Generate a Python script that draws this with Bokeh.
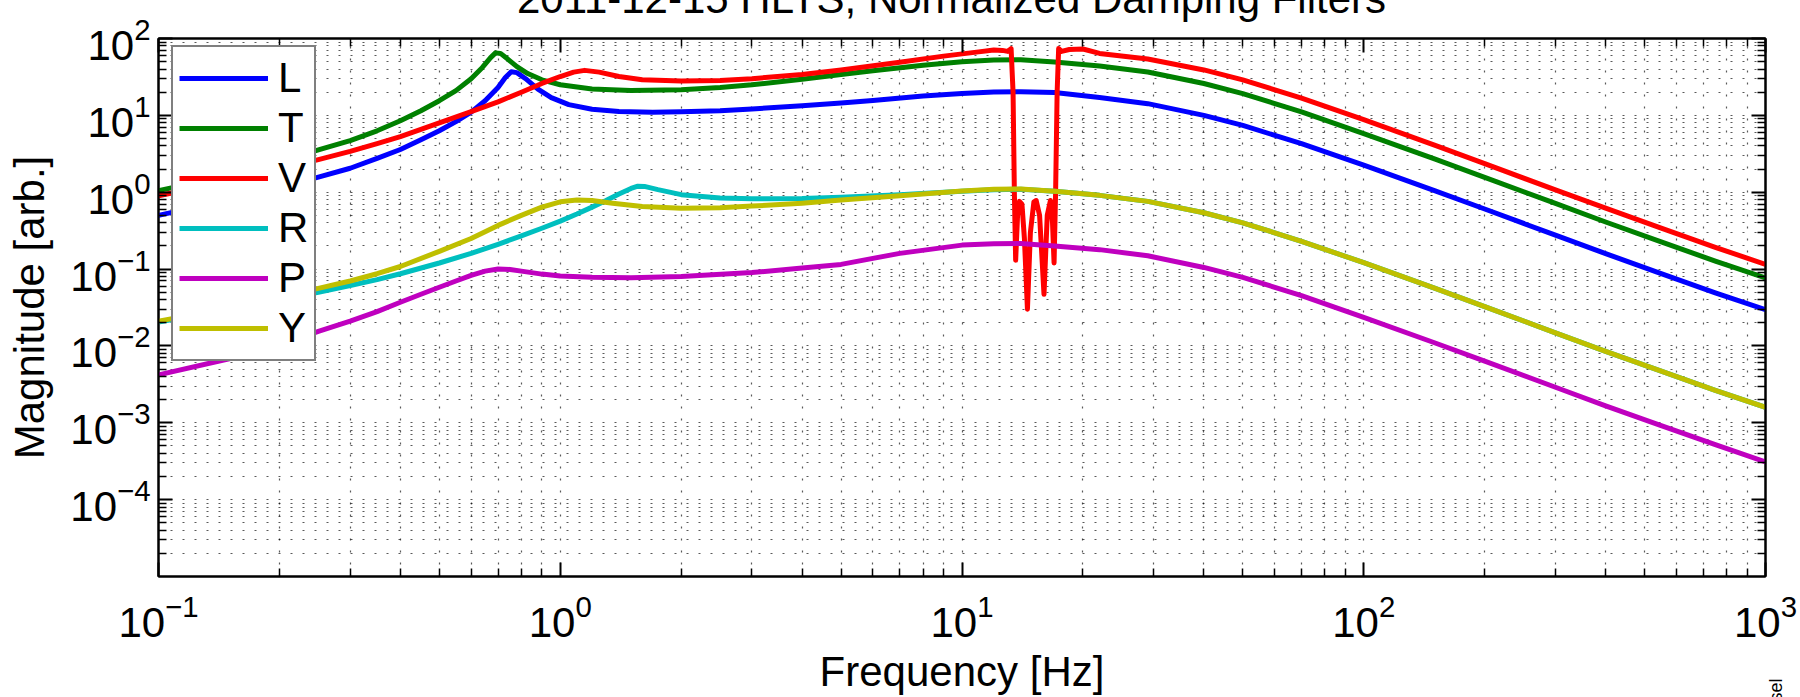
from math import pi
from bokeh.plotting import figure
from bokeh.models import (FixedTicker, LogAxis, Legend, LegendItem, Label,
                          CustomJSTickFormatter, LogTickFormatter)
from bokeh.embed import file_html
from bokeh.resources import INLINE

FONT = "Liberation Sans"

title_text = "2011-12-15 HLTS, Normalized Damping Filters"
x_label = "Frequency [Hz]"
y_label = "Magnitude [arb.]"
stamp_text = "sel"
series_names = ["L", "T", "V", "R", "P", "Y"]
series_colors = ["#0000ff", "#008000", "#ff0000", "#00bfbf", "#bf00bf", "#bfbf00"]

x_major_ticks = [0.1, 1, 10, 100, 1000]
y_major_ticks = [1e-4, 1e-3, 1e-2, 1e-1, 1, 10, 100]

# ---- L (blue)
freq_L = [0.1, 0.15, 0.2, 0.25, 0.3, 0.35, 0.4, 0.45, 0.5, 0.55, 0.6, 0.65, 0.7,
          0.73, 0.755, 0.78, 0.82, 0.88, 0.95, 1.05, 1.2, 1.4, 1.7, 2.0, 2.5, 3,
          4, 5, 6, 8, 10, 12, 14, 17, 22, 29, 40, 50, 70, 100, 150, 200, 300,
          400, 550, 750, 1000]
mag_L = [0.5, 0.8, 1.15, 1.57, 2.05, 2.75, 3.6, 4.8, 6.3, 8.3, 11, 15.5, 23,
         31, 37, 36, 30, 22, 17, 13.8, 12, 11.2, 11, 11.1, 11.5, 12.1,
         13.3, 14.5, 15.6, 17.8, 19.3, 20.2, 20.3, 19.8, 17.1, 14.2, 10.0, 7.4,
         4.28, 2.25, 1.05, 0.605, 0.276, 0.159, 0.0874, 0.049, 0.0296]

# ---- T (green)
freq_T = [0.1, 0.15, 0.2, 0.25, 0.3, 0.35, 0.4, 0.45, 0.5, 0.55, 0.6, 0.64,
          0.67, 0.69, 0.71, 0.74, 0.78, 0.83, 0.9, 1.0, 1.2, 1.5, 2, 2.5, 3, 4,
          5, 6, 8, 10, 12, 14, 17, 22, 29, 40, 50, 70, 100, 150, 200, 300, 400,
          550, 750, 1000]
mag_T = [1.05, 1.65, 2.5, 3.55, 4.7, 6.3, 8.5, 11.5, 15.5, 21, 30, 42,
         56, 65, 64, 54, 43, 35, 29, 25, 22, 21, 21.5, 23, 25, 29.5,
         34, 38, 45, 50, 52.5, 53, 49.5, 44, 36.7, 26, 19.2, 11.1, 5.8, 2.71,
         1.56, 0.715, 0.41, 0.226, 0.127, 0.0766]

# ---- V (red)
freq_V = [0.1, 0.15, 0.2, 0.25, 0.3, 0.35, 0.4, 0.5, 0.6, 0.7, 0.8, 0.9, 1.0,
          1.08, 1.15, 1.25, 1.4, 1.6, 2.0, 2.5, 3, 4, 5, 7, 9, 11, 12, 12.6,
          13.0, 13.25, 13.4, 13.5, 13.6, 13.75, 13.9, 14.1, 14.3, 14.55, 14.8,
          15.1, 15.3, 15.6, 16.0, 16.3, 16.6, 16.8, 16.95, 17.1, 17.25, 17.4,
          17.7, 18.5, 20, 22, 29, 40, 50, 70, 100, 150, 200, 300, 400, 550, 750,
          1000]
mag_V = [0.9, 1.4, 2.0, 2.65, 3.4, 4.3, 5.3, 8, 11.2, 15, 20, 26, 32,
         36.5, 38.5, 36.5, 32, 29, 28, 28.5, 30, 34, 39, 49, 59, 67, 71, 70,
         68, 74, 20, 1.0, 0.13, 0.5, 0.76, 0.7, 0.25, 0.03, 0.3,
         0.75, 0.78, 0.5, 0.047, 0.5, 0.78, 0.4, 0.12, 1.0, 20, 74,
         68, 72, 73, 64, 54, 39, 29, 16.8, 8.8, 4.1, 2.35, 1.07, 0.62, 0.34,
         0.192, 0.115]

# ---- R (cyan)
freq_R = [0.1, 0.15, 0.2, 0.25, 0.3, 0.35, 0.4, 0.5, 0.6, 0.7, 0.8, 0.9, 1.0,
          1.1, 1.2, 1.3, 1.4, 1.5, 1.56, 1.62, 1.75, 2.0, 2.5, 3, 4, 5, 7, 10,
          12, 14, 17, 22, 29, 40, 50, 70, 100, 150, 200, 300, 400, 550, 750,
          1000]
mag_R = [0.0205, 0.03, 0.04, 0.05, 0.061, 0.073, 0.087, 0.12, 0.16, 0.21,
         0.27, 0.34, 0.42, 0.52, 0.64, 0.78, 0.95, 1.12, 1.2, 1.19, 1.08, 0.93,
         0.84, 0.82, 0.83, 0.86, 0.93, 1.03, 1.08, 1.09, 1.03, 0.91, 0.76,
         0.54, 0.40, 0.23, 0.121, 0.0564, 0.0325, 0.0148, 0.0085, 0.0047,
         0.00264, 0.00159]

# ---- P (magenta)
freq_P = [0.1, 0.15, 0.2, 0.25, 0.3, 0.35, 0.4, 0.45, 0.5, 0.55, 0.6, 0.65,
          0.7, 0.75, 0.8, 0.9, 1.0, 1.2, 1.5, 2, 3, 4, 5, 7, 10, 12, 14, 17, 22,
          29, 40, 50, 70, 100, 150, 200, 300, 400, 550, 750, 1000]
mag_P = [0.0042, 0.0068, 0.0102, 0.0155, 0.021, 0.028, 0.037, 0.047, 0.058,
         0.07, 0.083, 0.094, 0.1, 0.099, 0.094, 0.086, 0.081, 0.078, 0.077,
         0.08, 0.09, 0.103, 0.115, 0.16, 0.205, 0.213, 0.215, 0.2, 0.179,
         0.149, 0.105, 0.078, 0.045, 0.0236, 0.011, 0.00634, 0.0029, 0.00166,
         0.00092, 0.00052, 0.00031]

# ---- Y (olive)
freq_Y = [0.1, 0.15, 0.2, 0.25, 0.3, 0.35, 0.4, 0.5, 0.6, 0.7, 0.8, 0.9, 1.0,
          1.1, 1.2, 1.35, 1.6, 2.0, 2.5, 3, 4, 5, 7, 10, 12, 14, 17, 22, 29, 40,
          50, 70, 100, 150, 200, 300, 400, 550, 750, 1000]
mag_Y = [0.021, 0.031, 0.043, 0.056, 0.07, 0.087, 0.108, 0.17, 0.25, 0.37,
         0.5, 0.64, 0.75, 0.79, 0.78, 0.72, 0.65, 0.62, 0.63, 0.66, 0.72, 0.79,
         0.9, 1.04, 1.09, 1.1, 1.03, 0.91, 0.76, 0.54, 0.40, 0.23, 0.121,
         0.0564, 0.0325, 0.0148, 0.0085, 0.0047, 0.00264, 0.00159]

series_freqs = [freq_L, freq_T, freq_V, freq_R, freq_P, freq_Y]
series_mags = [mag_L, mag_T, mag_V, mag_R, mag_P, mag_Y]

x_minor_ticks = [m * 10.0 ** e for e in range(-1, 3) for m in range(2, 10)]
y_minor_ticks = [m * 10.0 ** e for e in range(-5, 2) for m in range(2, 10)]

# the top HIDE px of the canvas sit above the window (the title is cut there)
HIDE = 70
p = figure(width=1800, height=697 + HIDE, x_axis_type="log", y_axis_type="log",
           x_range=(0.1, 1000), y_range=(1e-5, 100),
           output_backend="svg", toolbar_location=None,
           min_border_left=158, min_border_right=35,
           min_border_top=38 + HIDE, min_border_bottom=115,
           margin=(-HIDE, 0, 0, 0))
p.background_fill_color = "white"
p.border_fill_color = "white"
p.outline_line_color = "black"
p.outline_line_width = 2

xt = FixedTicker(ticks=x_major_ticks, minor_ticks=x_minor_ticks)
yt = FixedTicker(ticks=y_major_ticks, minor_ticks=y_minor_ticks)


def style_axis(ax):
    ax.axis_line_color = "black"
    ax.axis_line_width = 2
    ax.major_tick_in = 14
    ax.major_tick_out = 0
    ax.minor_tick_in = 8
    ax.minor_tick_out = 0
    ax.major_tick_line_width = 2
    ax.minor_tick_line_width = 1.5
    ax.major_tick_line_color = "black"
    ax.minor_tick_line_color = "black"
    ax.major_label_text_font = FONT
    ax.major_label_text_font_size = "42px"
    ax.major_label_text_color = "black"
    ax.axis_label_text_font = FONT
    ax.axis_label_text_font_size = "42px"
    ax.axis_label_text_font_style = "normal"
    ax.axis_label_text_color = "black"


xa = p.xaxis[0]
xa.ticker = xt
xa.formatter = LogTickFormatter()
style_axis(xa)
xa.major_label_standoff = 17
xa.axis_label = x_label
xa.axis_label_standoff = 8

ya = p.yaxis[0]
ya.ticker = yt
ya.formatter = LogTickFormatter()
style_axis(ya)
ya.major_label_standoff = 8
ya.axis_label = y_label
ya.axis_label_standoff = 14

blank = CustomJSTickFormatter(code="return ''")
top = LogAxis(ticker=xt, formatter=blank)
style_axis(top)
top.major_label_standoff = 0
p.add_layout(top, "above")
right = LogAxis(ticker=yt, formatter=blank)
style_axis(right)
right.major_label_standoff = 0
p.add_layout(right, "right")

p.xgrid.ticker = xt
p.ygrid.ticker = yt
for g in (p.xgrid[0], p.ygrid[0]):
    g.grid_line_color = "black"
    g.grid_line_alpha = 0.65
    g.grid_line_dash = "2 10"
    g.grid_line_width = 1.2
    g.minor_grid_line_color = "black"
    g.minor_grid_line_alpha = 0.65
    g.minor_grid_line_dash = "2 10"
    g.minor_grid_line_width = 1.2

items = []
for name, col, fr, mg in zip(series_names, series_colors, series_freqs, series_mags):
    r = p.line(fr, mg, line_color=col, line_width=5, line_join="round")
    items.append(LegendItem(label=name, renderers=[r]))

legend = Legend(items=items, location=(13, 215),
                label_text_font=FONT, label_text_font_size="42px",
                label_text_color="black",
                glyph_width=89, glyph_height=50, label_height=50,
                spacing=0, padding=6, label_standoff=10, margin=0,
                border_line_color="black", border_line_width=2,
                background_fill_color="white", background_fill_alpha=1.0)
p.add_layout(legend)

# title: only its lower part shows at the top edge, centred over the frame
title = Label(x=9.415, y=336.0, text=title_text,
              text_font=FONT, text_font_size="42px", text_color="black",
              text_align="center", text_baseline="alphabetic")
p.add_layout(title, "above")

# small rotated stamp at the lower right corner of the page
stamp = Label(x=1065.0, y=4.7e-7, text=stamp_text, angle=pi / 2,
              text_font=FONT, text_font_size="18px", text_color="black",
              text_align="right", text_baseline="middle")
p.add_layout(stamp, "right")

open("out.html", "w").write(file_html(p, INLINE))
